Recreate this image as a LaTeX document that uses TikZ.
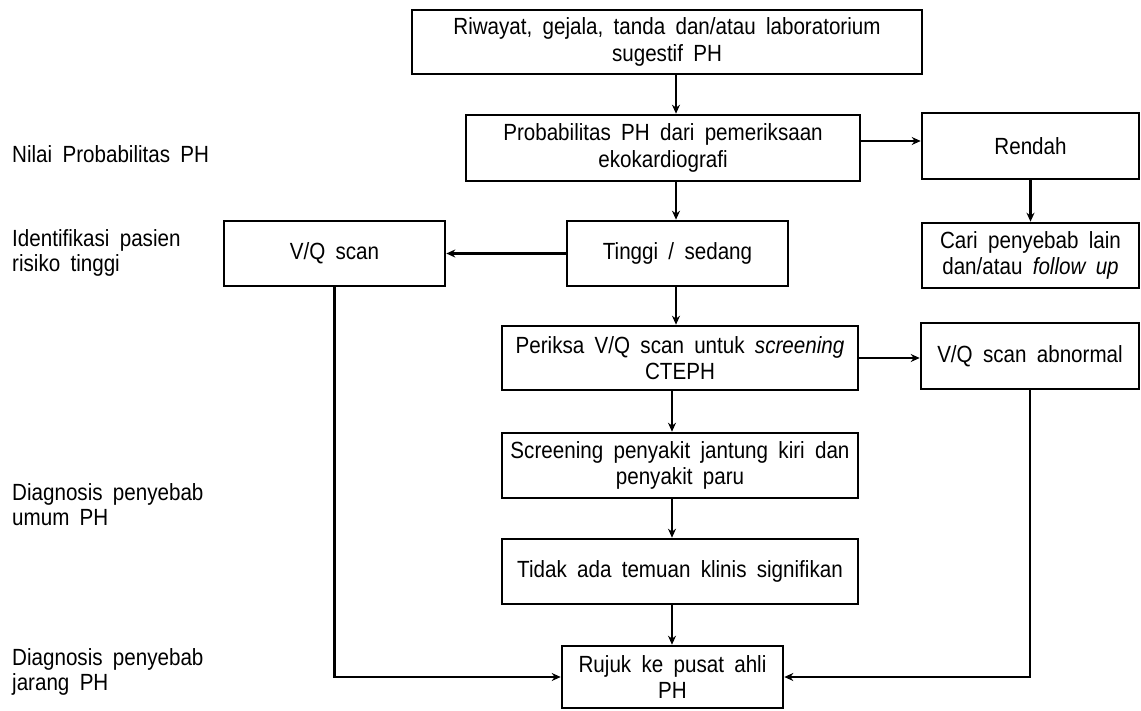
\documentclass[tikz,border=0pt]{standalone}
\usepackage{fontspec}
% condensed letters with wide word gaps, as set in the flowchart
\setmainfont{Liberation Sans}[FakeStretch=0.88, WordSpace=1.8]
\usetikzlibrary{arrows.meta}
\begin{document}
\begin{tikzpicture}[x=1bp,y=-1bp,
  box/.style={draw, line width=2.6bp, rectangle, inner sep=0pt, align=center,
    font=\fontsize{23.5}{26.5}\selectfont},
  lbl/.style={anchor=west, align=left, inner sep=0pt,
    font=\fontsize{23.5}{25}\selectfont},
  arr/.style={line width=2.4bp, -{Stealth[length=9bp,width=8bp]}}]
\useasboundingbox (0,0) rectangle (1141,711);
\fill[white] (0,0) rectangle (1141,711);

% main column
\node[box, minimum width=510bp, minimum height=64bp] (top) at (667,42)
  {Riwayat, gejala, tanda dan/atau laboratorium\\sugestif PH};
\node[box, minimum width=394bp, minimum height=66bp] (prob) at (663,148)
  {Probabilitas PH dari pemeriksaan\\ekokardiografi};
\node[box, minimum width=221bp, minimum height=65bp] (tinggi) at (677.5,253.5)
  {Tinggi / sedang};
\node[box, minimum width=356bp, minimum height=64bp] (periksa) at (680,358)
  {Periksa V/Q scan untuk \textit{screening}\\CTEPH};
\node[box, minimum width=356bp, minimum height=65bp] (screen) at (680,465.5)
  {Screening penyakit jantung kiri dan\\penyakit paru};
\node[box, minimum width=356bp, minimum height=65bp] (tidak) at (680,571.5)
  {Tidak ada temuan klinis signifikan};
\node[box, minimum width=221bp, minimum height=62bp] (rujuk) at (672.5,677)
  {Rujuk ke pusat ahli\\PH};

% side boxes
\node[box, minimum width=221bp, minimum height=65bp] (vql) at (334.5,253.5)
  {V/Q scan};
\node[box, minimum width=217bp, minimum height=66bp] (rendah) at (1030.5,146)
  {Rendah};
\node[box, minimum width=217bp, minimum height=65bp] (cari) at (1030.5,255.5)
  {Cari penyebab lain\\dan/atau \textit{follow up}};
\node[box, minimum width=218bp, minimum height=66bp] (vqab) at (1030,356)
  {V/Q scan abnormal};

% row labels
\node[lbl] (l1) at (12,154) {Nilai Probabilitas PH};
\node[lbl] (l2) at (12,252.5) {Identifikasi pasien\\risiko tinggi};
\node[lbl] (l3) at (12,504.5) {Diagnosis penyebab\\umum PH};
\node[lbl] (l4) at (12,671.5) {Diagnosis penyebab\\jarang PH};

% connectors
\coordinate (colA) at (676,0);
\coordinate (colB) at (672,0);
\coordinate (rowR) at (0,141);
\draw[arr] (top.south -| colA) -- (prob.north -| colA);
\draw[arr] (prob.south -| colA) -- (tinggi.north -| colA);
\draw[arr] (tinggi.south -| colA) -- (periksa.north -| colA);
\draw[arr] (periksa.south -| colB) -- (screen.north -| colB);
\draw[arr] (screen.south -| colB) -- (tidak.north -| colB);
\draw[arr] (tidak.south -| colB) -- (rujuk.north -| colB);
\draw[arr] (prob.east |- rowR) -- (rendah.west |- rowR);
\draw[arr] (rendah.south) -- (cari.north);
\draw[arr] (tinggi.west) -- (vql.east);
\draw[arr] (periksa.east) -- (vqab.west |- periksa.east);
\draw[arr] (vql.south) |- (rujuk.west);
\draw[arr] (vqab.south) |- (rujuk.east);
\end{tikzpicture}
\end{document}
